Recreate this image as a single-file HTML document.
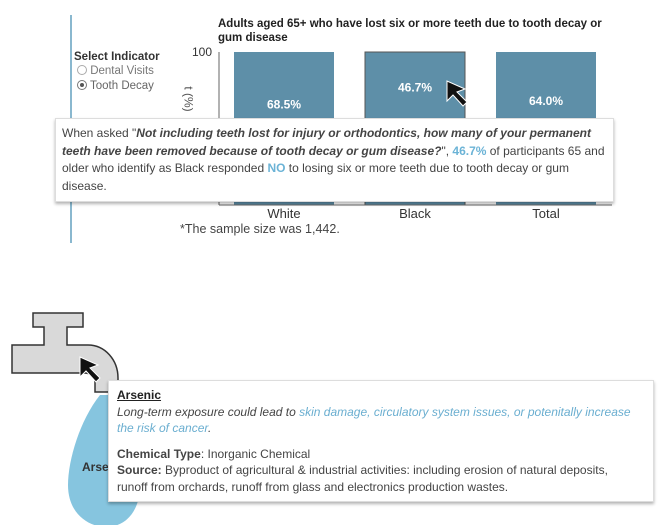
<!DOCTYPE html>
<html><head><meta charset="utf-8"><style>
body{margin:0;width:662px;height:525px;background:#fff;position:relative;overflow:hidden;font-family:"Liberation Sans",sans-serif;color:#333}
.abs{position:absolute}
.tip{position:absolute;background:#fff;border:1px solid #ddd;box-shadow:0 2px 3px rgba(0,0,0,.3);font-size:12px;line-height:17.5px;color:#444}
.blue{color:#6bb3d6;font-weight:bold}
</style></head><body>
<div class="abs" style="left:70px;top:15px;width:2px;height:228px;background:#8ab8cf"></div>
<div class="abs" style="left:218px;top:17px;font-size:11.5px;font-weight:bold;line-height:14px;color:#222;width:390px">Adults aged 65+ who have lost six or more teeth due to tooth decay or gum disease</div>
<div class="abs" style="left:74px;top:51px;font-size:11.5px;font-weight:bold;color:#333">Select Indicator</div>
<div class="abs" style="left:77px;top:65px;font-size:11.5px;color:#777"><span style="display:inline-block;width:8px;height:8px;border:1px solid #aaa;border-radius:50%;vertical-align:-1px"></span> Dental Visits</div>
<div class="abs" style="left:77px;top:80px;font-size:11.5px;color:#666"><span style="display:inline-block;width:8px;height:8px;border:1px solid #777;border-radius:50%;vertical-align:-1px;position:relative"><span style="position:absolute;left:2px;top:2px;width:4px;height:4px;background:#555;border-radius:50%"></span></span> Tooth Decay</div>
<div class="abs" style="left:176px;top:92px;font-size:12px;color:#555;transform:rotate(90deg)">t (%)</div>
<svg id="chart" class="abs" style="left:0;top:0" width="662" height="250"></svg>
<div class="abs" style="left:180px;top:222px;font-size:12.5px;color:#444">*The sample size was 1,442.</div>
<div class="tip" style="left:55px;top:118px;width:545px;height:70px;padding:6px 6px">When asked "<b><i>Not including teeth lost for injury or orthodontics, how many of your permanent teeth have been removed because of tooth decay or gum disease?</i></b>", <span class="blue">46.7%</span> of participants 65 and older who identify as Black responded <span class="blue">NO</span> to losing six or more teeth due to tooth decay or gum disease.</div>
<svg class="abs" style="left:445px;top:79px" width="30" height="30"><path d="M2,2 L2,22 L8,16 L18,27 L22,23 L12,13 L20,10 Z" fill="#111" stroke="#fff" stroke-width="1"/></svg>
<svg class="abs" style="left:0;top:300px" width="160" height="225">
<path d="M100,95 C80,120 68,160 68,185 C68,215 90,227 106,227 C125,227 140,212 140,185 C140,160 125,120 108,95 Z" fill="#86c5df"/>
<path d="M33,13 L83,13 L83,27 L67,27 L67,45 L88,45 C105,45 118,60 118,78 L118,92 L95,92 L95,82 C95,76 90,73 84,73 L12,73 L12,45 L44,45 L44,27 L33,27 Z" fill="#d9d9d9" stroke="#333" stroke-width="1.5"/>
<path d="M80,57 L80,77 L86,71 L96,82 L100,78 L90,68 L98,65 Z" fill="#111" stroke="#fff" stroke-width="1"/>
<text x="82" y="171" font-size="12" font-weight="bold" fill="#333" font-family="Liberation Sans">Arse</text>
</svg>
<div class="tip" style="left:108px;top:380px;width:520px;height:108px;padding:6px 16px 6px 8px;font-size:12px;line-height:16.5px">
<b style="text-decoration:underline;color:#222">Arsenic</b><br>
<i>Long-term exposure could lead to <span style="color:#6aaed0">skin damage, circulatory system issues, or potenitally increase the risk of cancer</span>.</i><br>
<div style="height:9px"></div>
<b>Chemical Type</b>: Inorganic Chemical<br>
<b>Source:</b> Byproduct of agricultural &amp; industrial activities: including erosion of natural deposits, runoff from orchards, runoff from glass and electronics production wastes.
</div>
<script>
const categories=["White","Black","Total"];
const noValues=[68.5,46.7,64.0];
const yTicks=[100];
const svg=document.getElementById('chart');
const NS='http://www.w3.org/2000/svg';
const x0=219,x1=612,yTop=52,yBot=205;
const y=v=>yBot-(v/100)*(yBot-yTop);
const band=(x1-x0)/categories.length;
const bx=i=>x0+band*i+15;
const bw=band-31;
function mk(t,a){const e=document.createElementNS(NS,t);for(const k in a)e.setAttribute(k,a[k]);svg.appendChild(e);return e;}
categories.forEach((c,i)=>{
 const r=mk('rect',{x:bx(i),y:y(100),width:bw,height:y(0)-y(100),fill:'#5e8fa8',stroke:i==1?'#555':'none'});
 
 
 const t=mk('text',{x:bx(i)+bw/2,y:y(100-noValues[i]/2)+4,'text-anchor':'middle','font-size':12,'font-weight':'bold',fill:'#fff','font-family':'Liberation Sans'});
 t.textContent=noValues[i].toFixed(1)+'%';
 
 
 const l=mk('text',{x:bx(i)+bw/2,y:218,'text-anchor':'middle','font-size':13,fill:'#333','font-family':'Liberation Sans'});
 l.textContent=c;
 
 
});
yTicks.forEach(v=>{
 const t=mk('text',{x:212,y:y(v)+4,'text-anchor':'end','font-size':12,fill:'#333','font-family':'Liberation Sans'});
 t.textContent=v;
 
 
});
const ax=mk('line',{x1:x0,y1:yTop,x2:x0,y2:yBot,stroke:'#666'});


const bx2=mk('line',{x1:x0,y1:yBot,x2:x1,y2:yBot,stroke:'#666'});


</script>
</body></html>
